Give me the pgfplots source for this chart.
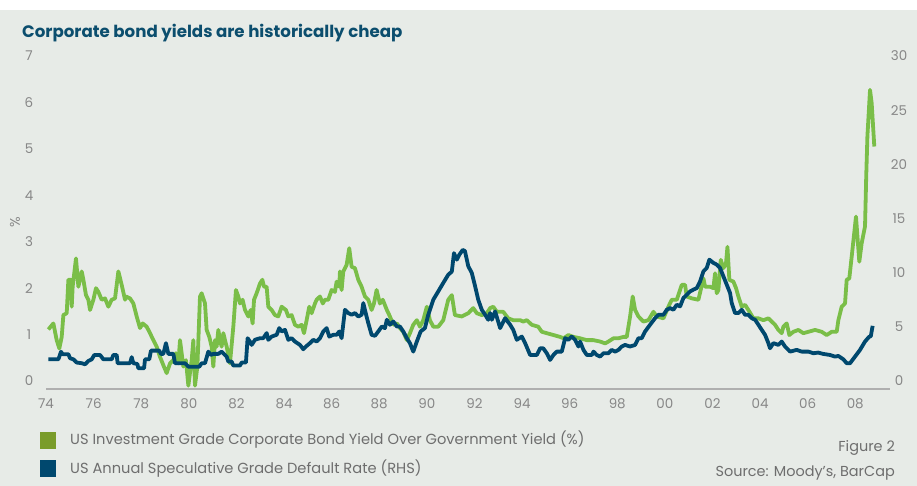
\documentclass[border=0pt]{standalone}
\usepackage{fontspec}
\setmainfont{Poppins}
\usepackage{pgfplots}
\pgfplotsset{compat=1.18}
\definecolor{bg}{RGB}{231,235,231}
\definecolor{gline}{RGB}{122,190,72}
\definecolor{gleg}{RGB}{122,156,42}
\definecolor{bline}{RGB}{0,72,110}
\definecolor{titlec}{RGB}{12,78,110}
\definecolor{tickc}{RGB}{135,135,135}
\definecolor{legc}{RGB}{110,110,110}
\definecolor{axc}{RGB}{175,175,175}
\pgfplotstableread{
x y
74.10 1.11
74.31 1.24
74.45 0.88
74.56 0.70
74.66 0.95
74.73 1.42
74.87 1.46
74.94 2.18
75.05 2.18
75.08 1.60
75.12 2.03
75.26 2.64
75.36 2.03
75.50 2.36
75.57 2.18
75.68 1.85
75.78 1.75
75.85 1.53
75.99 1.75
76.10 2.00
76.20 1.92
76.34 1.75
76.48 1.78
76.62 1.60
76.76 1.75
76.90 1.78
77.04 2.36
77.18 2.07
77.32 1.75
77.36 1.82
77.53 1.78
77.67 1.67
77.81 1.39
77.95 1.14
78.06 1.24
78.23 1.17
78.37 1.03
78.51 0.88
78.65 0.74
78.79 0.52
78.93 0.34
79.07 0.17
79.21 0.38
79.35 0.45
79.46 0.60
79.56 0.38
79.63 0.88
79.77 0.31
79.88 0.45
79.98 -0.10
80.12 0.45
80.19 0.88
80.26 -0.10
80.36 0.31
80.47 1.82
80.54 1.89
80.68 1.67
80.75 1.10
80.86 0.95
80.96 0.74
81.03 0.31
81.10 0.88
81.17 0.74
81.24 1.10
81.31 0.88
81.38 0.74
81.45 1.03
81.52 0.88
81.59 0.74
81.73 0.38
81.87 1.17
81.98 1.96
82.08 1.82
82.15 1.67
82.26 1.75
82.36 1.53
82.50 1.39
82.60 1.53
82.68 1.24
82.74 1.75
82.85 1.89
82.99 2.10
83.09 2.18
83.16 2.03
83.27 2.03
83.34 1.60
83.48 1.53
83.62 1.42
83.76 1.39
83.90 1.60
84.08 1.53
84.18 1.39
84.32 1.42
84.46 1.21
84.60 1.17
84.74 1.21
84.84 1.03
84.95 1.31
85.06 1.60
85.16 1.46
85.30 1.67
85.37 1.75
85.51 1.82
85.63 1.67
85.72 1.75
85.86 1.75
86.00 1.96
86.14 1.92
86.21 2.14
86.32 2.03
86.35 2.36
86.42 1.96
86.49 2.36
86.63 2.50
86.74 2.86
86.84 2.46
86.98 2.43
87.12 2.18
87.26 2.03
87.40 1.82
87.54 1.75
87.68 1.53
87.78 1.67
87.89 1.96
88.03 1.67
88.15 1.75
88.32 1.53
88.45 1.39
88.59 1.21
88.74 1.24
88.87 1.14
89.01 1.06
89.16 0.88
89.29 1.03
89.43 1.21
89.58 1.31
89.71 1.17
89.85 1.31
90.00 1.60
90.13 1.31
90.27 1.17
90.48 1.17
90.69 1.31
90.90 1.75
91.05 1.85
91.18 1.42
91.47 1.39
91.74 1.46
91.95 1.57
92.10 1.46
92.31 1.42
92.52 1.46
92.66 1.57
92.79 1.60
92.94 1.49
93.21 1.49
93.42 1.35
93.63 1.31
93.92 1.31
94.05 1.28
94.20 1.31
94.41 1.21
94.68 1.17
94.83 1.06
95.04 1.03
95.32 0.99
95.60 0.95
95.74 0.92
95.95 0.99
96.16 0.95
96.44 0.92
96.72 0.88
97.00 0.88
97.28 0.85
97.49 0.81
97.63 0.85
97.84 0.92
98.05 0.92
98.26 0.95
98.40 0.95
98.54 1.39
98.65 1.82
98.75 1.53
98.89 1.39
99.10 1.28
99.31 1.31
99.52 1.49
99.66 1.39
99.94 1.35
100.15 1.60
100.29 1.75
100.50 1.75
100.64 1.96
100.71 2.07
100.85 2.07
100.92 1.82
101.13 1.78
101.41 1.75
101.62 2.21
101.69 2.03
101.90 2.03
102.04 2.00
102.11 2.32
102.18 1.89
102.25 1.96
102.35 2.61
102.46 2.43
102.57 2.54
102.63 2.89
102.71 2.18
102.88 2.14
102.99 2.00
103.09 1.82
103.23 1.60
103.37 1.64
103.51 1.53
103.72 1.35
103.93 1.35
104.14 1.31
104.35 1.35
104.49 1.28
104.63 1.21
104.77 1.10
104.91 1.03
104.98 1.17
105.12 1.24
105.23 0.99
105.40 1.06
105.61 1.10
105.82 1.03
106.03 1.06
106.31 1.10
106.59 1.06
106.80 0.99
107.01 1.06
107.22 1.06
107.29 1.31
107.43 1.60
107.57 1.67
107.64 2.18
107.75 2.21
107.85 2.68
108.03 3.54
108.17 2.57
108.27 2.97
108.41 3.33
108.46 4.40
108.51 5.27
108.62 6.27
108.69 5.98
108.80 5.05
}\green
\pgfplotstableread{
x y
74.10 2.00
74.52 2.00
74.63 2.70
74.70 2.47
74.94 2.47
75.01 2.10
75.15 2.00
75.29 1.70
75.50 1.64
75.64 1.54
75.78 1.85
75.92 2.00
76.03 2.40
76.27 2.40
76.41 2.00
76.76 2.00
76.83 2.40
76.97 2.40
77.01 1.64
77.53 1.64
77.60 2.20
77.67 1.64
77.84 1.57
77.88 1.17
78.12 1.17
78.16 2.00
78.34 2.00
78.41 2.80
78.76 2.80
78.83 2.50
78.93 2.50
79.04 3.49
79.14 2.50
79.35 2.50
79.42 1.64
79.84 1.64
79.98 1.32
80.44 1.32
80.54 1.64
80.68 1.64
80.82 2.71
80.92 2.40
81.03 2.50
81.24 2.50
81.38 2.71
81.59 2.25
81.66 1.79
81.80 1.79
81.87 1.42
82.15 1.42
82.22 1.70
82.40 1.70
82.47 3.95
82.57 3.64
82.64 3.33
82.78 3.80
82.99 3.95
83.13 3.95
83.27 4.42
83.34 3.80
83.48 4.10
83.69 4.26
83.80 4.88
83.90 4.57
84.04 4.72
84.18 3.80
84.32 3.95
84.46 3.64
84.67 3.33
84.81 2.93
84.92 3.18
85.09 3.49
85.23 3.80
85.37 3.64
85.51 3.95
85.65 4.57
85.79 4.88
85.90 4.10
86.07 4.26
86.21 4.26
86.32 4.57
86.42 3.95
86.56 6.57
86.70 6.27
86.84 6.11
86.98 6.27
87.12 5.95
87.26 6.11
87.33 7.19
87.45 6.11
87.54 5.34
87.68 4.26
87.82 4.17
87.96 4.57
88.11 5.03
88.24 4.88
88.32 5.65
88.45 5.19
88.59 5.49
88.74 5.03
88.87 5.03
89.01 4.57
89.16 3.95
89.29 3.49
89.43 2.71
89.58 3.64
89.74 4.57
89.92 4.88
90.06 6.11
90.27 7.50
90.48 8.27
90.69 9.05
90.90 9.81
91.05 10.10
91.14 11.80
91.26 11.20
91.37 11.67
91.51 12.10
91.60 12.00
91.74 10.60
91.89 9.97
92.03 8.73
92.16 7.50
92.31 6.57
92.45 6.11
92.58 5.65
92.66 6.27
92.73 5.65
92.87 6.42
93.08 4.88
93.29 5.80
93.50 5.19
93.63 4.72
93.78 3.80
93.99 4.10
94.13 3.49
94.34 2.40
94.62 2.40
94.76 3.02
94.89 3.02
95.04 2.56
95.18 1.94
95.32 2.40
95.46 2.71
95.67 2.71
95.81 3.95
95.95 3.80
96.09 4.10
96.23 3.80
96.37 3.18
96.44 3.64
96.58 2.87
96.72 2.40
96.93 2.40
97.00 2.71
97.14 2.40
97.28 2.25
97.42 2.56
97.63 2.56
97.77 2.87
97.91 2.71
98.05 2.87
98.19 3.18
98.33 3.33
98.54 3.18
98.75 3.33
98.89 3.95
99.03 3.95
99.17 4.57
99.38 5.19
99.59 5.80
99.73 6.11
99.94 6.11
100.08 6.57
100.22 6.73
100.36 6.57
100.50 7.04
100.64 6.88
100.78 7.66
100.92 7.96
101.06 8.27
101.20 8.43
101.34 8.58
101.48 9.19
101.62 10.12
101.76 10.43
101.87 11.20
102.04 10.90
102.18 10.74
102.32 10.43
102.46 9.66
102.60 8.89
102.74 8.12
102.81 7.19
102.95 6.27
103.09 6.27
103.23 6.57
103.37 6.11
103.51 6.11
103.65 5.80
103.79 5.65
103.93 5.19
104.07 4.72
104.21 4.26
104.35 3.49
104.42 3.02
104.56 3.49
104.77 3.33
104.91 3.64
105.05 3.18
105.26 2.71
105.54 2.87
105.75 2.71
106.03 2.71
106.24 2.56
106.44 2.62
106.65 2.50
106.94 2.40
107.15 2.25
107.29 2.31
107.50 2.00
107.64 1.64
107.78 1.64
107.99 2.25
108.20 2.87
108.41 3.64
108.59 4.10
108.65 4.10
108.73 5.09
}\blue
\begin{document}
\begin{tikzpicture}
\begin{scope}[x=1bp,y=1bp]
\fill[white] (0,0) rectangle (917,486);
\fill[bg] (0,0) rectangle (917,476);
\end{scope}
\begin{axis}[
  at={(46bp,97bp)}, anchor=south west,
  scale only axis, width=844bp, height=333bp,
  xmin=74, xmax=109.46, ymin=-0.172, ymax=7,
  axis x line*=bottom, axis y line*=left,
  x axis line style={draw=axc, line width=1.5bp},
  y axis line style={draw=none},
  xtick={74,76,...,108},
  xticklabels={74,76,78,80,82,84,86,88,90,92,94,96,98,00,02,04,06,08},
  ytick={0,1,...,7},
  major tick length=0pt,
  /pgf/number format/assume math mode=true,
  tick label style={font=\fontsize{13.5}{15}\selectfont, text=tickc, inner sep=0pt},
  xticklabel style={anchor=center, yshift=-15bp},
  yticklabel style={anchor=center, xshift=-17bp},
]
\addplot[gline, line width=3.8bp, line join=round] table[x=x,y=y] {\green};
\end{axis}
\begin{axis}[
  at={(46bp,97bp)}, anchor=south west,
  scale only axis, width=844bp, height=333bp,
  xmin=74, xmax=109.46, ymin=-0.74, ymax=30,
  axis x line=none, axis y line*=right,
  y axis line style={draw=none},
  ytick={0,5,...,30},
  major tick length=0pt,
  /pgf/number format/assume math mode=true,
  tick label style={font=\fontsize{13.5}{15}\selectfont, text=tickc, inner sep=0pt},
  yticklabel style={anchor=center, xshift=9bp},
]
\addplot[bline, line width=3.8bp, line join=round] table[x=x,y=y] {\blue};
\end{axis}
\begin{scope}[x=1bp,y=1bp]
\node[rotate=90, text=tickc, font=\fontsize{14}{15}\selectfont, inner sep=0pt] at (15,264) {\%};
\node[anchor=base west, inner sep=0pt, text=titlec, font=\bfseries\fontsize{16.7}{20}\selectfont] at (22,448.5) {Corporate bond yields are historically cheap};
\fill[gleg] (40,37) rectangle (56,54);
\fill[bline] (40,9) rectangle (56,26);
\node[anchor=base west, inner sep=0pt, text=legc, font=\fontsize{14.7}{16}\selectfont] at (70,41) {US Investment Grade Corporate Bond Yield Over Government Yield (\%)};
\node[anchor=base west, inner sep=0pt, text=legc, font=\fontsize{14.7}{16}\selectfont] at (70,12.7) {US Annual Speculative Grade Default Rate (RHS)};
\node[anchor=base east, inner sep=0pt, text=legc, font=\fontsize{14.5}{16}\selectfont] at (895,34.3) {Figure 2};
\node[anchor=base east, inner sep=0pt, text=legc, font=\fontsize{14.5}{16}\selectfont] at (895,9.5) {Source: Moody’s, BarCap};
\end{scope}
\end{tikzpicture}
\end{document}
